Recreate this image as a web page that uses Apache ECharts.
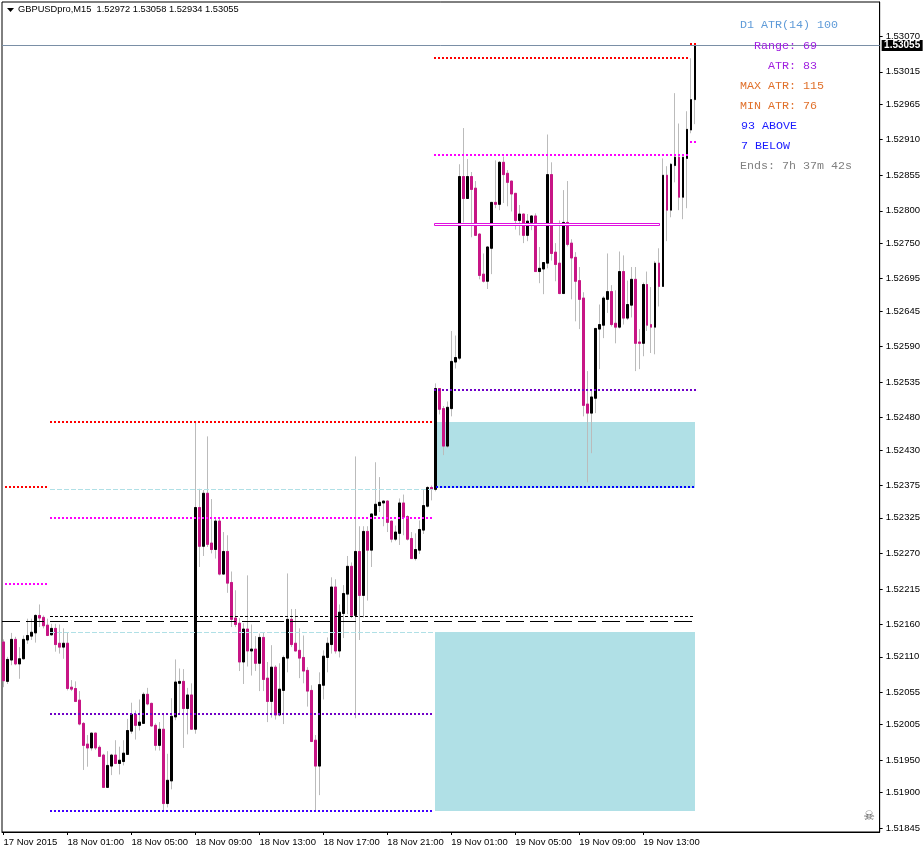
<!DOCTYPE html>
<html>
<head>
<meta charset="utf-8">
<title>GBPUSDpro,M15</title>
<script src="https://cdn.jsdelivr.net/npm/echarts@6/dist/echarts.min.js"></script>
<style>
    html, body { margin: 0; padding: 0; background: #fff; }
    #main { width: 923px; height: 850px; }
</style>
</head>
<body>
<div id="main"></div>
<script>
// M15 bars, index 0 = first visible bar
var opens = [
1.52133,1.52072,1.52105,1.52137,1.52099,1.52107,1.52136,1.52142,1.52147,1.52174,
1.52171,1.52159,1.52144,1.52154,1.52131,1.52125,1.52131,1.52063,1.52061,1.52043,
1.52007,1.51975,1.51969,1.51992,1.51970,1.51958,1.51908,1.51941,1.51958,1.51945,
1.51948,1.51959,1.51995,1.52021,1.52004,1.52007,1.52052,1.52038,1.52004,1.51973,
1.51998,1.51883,1.51918,1.52017,1.52069,1.52072,1.52030,1.52051,1.51998,1.52341,
1.52281,1.52363,1.52286,1.52276,1.52320,1.52238,1.52273,1.52225,1.52170,1.52162,
1.52102,1.52153,1.52119,1.52122,1.52100,1.52140,1.52077,1.52041,1.52094,1.52020,
1.52058,1.52108,1.52168,1.52131,1.52120,1.52109,1.52089,1.52058,1.51981,1.51941,
1.52066,1.52109,1.52129,1.52218,1.52119,1.52177,1.52207,1.52250,1.52174,1.52273,
1.52205,1.52304,1.52275,1.52329,1.52344,1.52348,1.52351,1.52320,1.52292,1.52301,
1.52348,1.52327,1.52293,1.52262,1.52275,1.52306,1.52343,1.52372,1.52369,1.52525,
1.52494,1.52436,1.52494,1.52566,1.52572,1.52853,1.52819,1.52853,1.52835,1.52764,
1.52702,1.52691,1.52742,1.52813,1.52810,1.52875,1.52858,1.52846,1.52827,1.52785,
1.52795,1.52762,1.52782,1.52792,1.52706,1.52710,1.52719,1.52856,1.52736,1.52719,
1.52672,1.52782,1.52750,1.52728,1.52692,1.52665,1.52501,1.52487,1.52510,1.52617,
1.52623,1.52663,1.52675,1.52626,1.52620,1.52706,1.52634,1.52654,1.52694,1.52597,
1.52595,1.52686,1.52624,1.52620,1.52719,1.52683,1.52855,1.52801,1.52870,1.52883,
1.52821,1.52881,1.52925,1.52972];
var closes = [
1.52073,1.52106,1.52137,1.52099,1.52107,1.52137,1.52143,1.52148,1.52174,1.52170,
1.52158,1.52143,1.52154,1.52129,1.52125,1.52131,1.52061,1.52060,1.52041,1.52006,
1.51973,1.51969,1.51992,1.51969,1.51956,1.51908,1.51942,1.51958,1.51945,1.51950,
1.51961,1.51996,1.52021,1.52004,1.52009,1.52052,1.52037,1.52003,1.51973,1.51998,
1.51883,1.51919,1.52018,1.52071,1.52072,1.52030,1.52051,1.51998,1.52341,1.52281,
1.52363,1.52284,1.52276,1.52320,1.52238,1.52273,1.52224,1.52168,1.52160,1.52102,
1.52153,1.52119,1.52122,1.52100,1.52140,1.52075,1.52041,1.52094,1.52020,1.52060,
1.52109,1.52168,1.52129,1.52119,1.52108,1.52088,1.52057,1.51979,1.51941,1.52067,
1.52111,1.52131,1.52218,1.52119,1.52179,1.52208,1.52250,1.52174,1.52273,1.52205,
1.52304,1.52275,1.52331,1.52346,1.52349,1.52351,1.52318,1.52292,1.52303,1.52348,
1.52326,1.52292,1.52262,1.52276,1.52307,1.52344,1.52372,1.52369,1.52525,1.52493,
1.52436,1.52496,1.52567,1.52573,1.52853,1.52819,1.52853,1.52833,1.52762,1.52700,
1.52691,1.52744,1.52813,1.52810,1.52875,1.52856,1.52844,1.52826,1.52785,1.52795,
1.52762,1.52784,1.52792,1.52706,1.52711,1.52720,1.52856,1.52734,1.52717,1.52672,
1.52782,1.52748,1.52727,1.52691,1.52663,1.52499,1.52487,1.52512,1.52618,1.52624,
1.52665,1.52675,1.52624,1.52620,1.52706,1.52634,1.52655,1.52694,1.52595,1.52595,
1.52686,1.52623,1.52620,1.52719,1.52683,1.52855,1.52801,1.52872,1.52883,1.52821,
1.52883,1.52926,1.52972,1.53055];
var highs = [
1.52137,1.52110,1.52147,1.52141,1.52125,1.52143,1.52169,1.52169,1.52176,1.52191,
1.52174,1.52169,1.52161,1.52161,1.52160,1.52154,1.52147,1.52074,1.52072,1.52057,
1.52009,1.51989,1.51992,1.51992,1.51973,1.51960,1.51964,1.51960,1.51981,1.51971,
1.51981,1.52014,1.52039,1.52027,1.52044,1.52055,1.52062,1.52039,1.52007,1.52009,
1.52020,1.51960,1.52046,1.52106,1.52092,1.52091,1.52062,1.52069,1.52473,1.52370,
1.52368,1.52451,1.52354,1.52324,1.52324,1.52303,1.52298,1.52242,1.52213,1.52170,
1.52162,1.52236,1.52160,1.52142,1.52146,1.52148,1.52102,1.52128,1.52097,1.52100,
1.52112,1.52239,1.52184,1.52184,1.52154,1.52143,1.52094,1.52066,1.51989,1.52086,
1.52120,1.52140,1.52233,1.52230,1.52191,1.52221,1.52266,1.52256,1.52420,1.52312,
1.52312,1.52312,1.52331,1.52411,1.52388,1.52351,1.52352,1.52320,1.52313,1.52355,
1.52361,1.52329,1.52303,1.52301,1.52321,1.52368,1.52374,1.52375,1.52533,1.52525,
1.52498,1.52505,1.52614,1.52607,1.52872,1.52928,1.52880,1.52860,1.52846,1.52765,
1.52734,1.52745,1.52813,1.52878,1.52877,1.52884,1.52863,1.52846,1.52827,1.52809,
1.52795,1.52795,1.52793,1.52796,1.52744,1.52720,1.52918,1.52875,1.52750,1.52785,
1.52832,1.52846,1.52756,1.52736,1.52713,1.52674,1.52552,1.52522,1.52618,1.52655,
1.52668,1.52734,1.52685,1.52677,1.52737,1.52731,1.52692,1.52713,1.52713,1.52617,
1.52689,1.52706,1.52682,1.52722,1.52742,1.52881,1.52869,1.52874,1.52982,1.52935,
1.52883,1.52954,1.53036,1.53058];
var lows = [
1.52063,1.52068,1.52097,1.52097,1.52076,1.52106,1.52130,1.52136,1.52132,1.52156,
1.52154,1.52142,1.52143,1.52118,1.52115,1.52107,1.52058,1.52057,1.52040,1.52004,
1.51935,1.51940,1.51965,1.51966,1.51955,1.51907,1.51907,1.51927,1.51944,1.51928,
1.51942,1.51959,1.51991,1.51982,1.51996,1.52007,1.52035,1.52002,1.51965,1.51965,
1.51873,1.51877,1.51905,1.52012,1.52021,1.51969,1.51990,1.51998,1.51991,1.52249,
1.52266,1.52280,1.52270,1.52262,1.52236,1.52238,1.52209,1.52156,1.52156,1.52088,
1.52068,1.52095,1.52081,1.52088,1.52057,1.52057,1.52009,1.52016,1.52013,1.52018,
1.52006,1.52086,1.52125,1.52119,1.52077,1.52069,1.52033,1.51978,1.51873,1.51896,
1.52044,1.52086,1.52115,1.52115,1.52109,1.52139,1.52176,1.52170,1.52015,1.52136,
1.52171,1.52197,1.52249,1.52329,1.52334,1.52312,1.52303,1.52287,1.52289,1.52283,
1.52298,1.52290,1.52262,1.52259,1.52269,1.52300,1.52341,1.52352,1.52366,1.52485,
1.52422,1.52433,1.52482,1.52556,1.52569,1.52782,1.52819,1.52759,1.52761,1.52694,
1.52689,1.52679,1.52702,1.52804,1.52801,1.52812,1.52807,1.52799,1.52771,1.52762,
1.52750,1.52753,1.52770,1.52706,1.52688,1.52671,1.52711,1.52723,1.52691,1.52671,
1.52672,1.52745,1.52663,1.52629,1.52617,1.52482,1.52380,1.52425,1.52487,1.52555,
1.52603,1.52642,1.52621,1.52595,1.52618,1.52624,1.52631,1.52635,1.52552,1.52555,
1.52575,1.52614,1.52580,1.52578,1.52652,1.52683,1.52753,1.52790,1.52844,1.52801,
1.52787,1.52804,1.52920,1.52934];

// axis ticks
var priceTicks = [1.53070,1.53015,1.52965,1.52910,1.52855,1.52800,1.52750,1.52695,1.52645,1.52590,1.52535,1.52480,
    1.52430,1.52375,1.52325,1.52270,1.52215,1.52160,1.52110,1.52055,1.52005,1.51950,1.51900,1.51845];
var timeTicks = [0,16,32,48,64,80,96,112,128,144,160];
var timeLabels = ['17 Nov 2015','18 Nov 01:00','18 Nov 05:00','18 Nov 09:00','18 Nov 13:00','18 Nov 17:00',
    '18 Nov 21:00','19 Nov 01:00','19 Nov 05:00','19 Nov 09:00','19 Nov 13:00'];

// indicator levels: price, first bar, last bar
var levelPrices = [1.53036,1.52886,1.53058,1.52907,1.52522,1.52474,1.52369,1.52372,1.52324,1.52372,1.52222,1.52172,1.52165,1.52148,1.52021,1.51871];
var levelFrom   = [107.6,107.6,171.6,171.6,107.6,11.6,11.6,108.1,11.6,0.4,0.4,11.6,-0.375,11.6,11.6,11.6];
var levelTo     = [171.1,171.1,173.1,173.1,173.1,107.6,107.6,173.1,107.6,11.1,11.1,172.6,172.6,107.6,107.1,107.1];

// zones: first bar, last bar, upper price, lower price
var zoneFrom = [108,107.9];
var zoneTo = [172.9,172.9];
var zoneTop = [1.52474,1.52148];
var zoneBottom = [1.52371,1.51871];
var boxFrom = 107.9, boxTo = 164.1, boxTop = 1.52780, boxBottom = 1.52777;

var lastPrice = 1.53055;
var titleText = 'GBPUSDpro,M15  1.52972 1.53058 1.52934 1.53055';
var panelLines = ['D1 ATR(14) 100','Range: 69','ATR: 83','MAX ATR: 115','MIN ATR: 76','93 ABOVE','7 BELOW','Ends: 7h 37m 42s'];

var DOT = [2,2], SHORT = [3,2], LONG = [18,6], DASH = [5,2];
var levelStyle = [
    ['#ff0000',DOT,2],['#ff00ff',DOT,2],['#ff0000',DOT,2],['#ff00ff',DOT,2],['#7000c8',DOT,2],['#ff0000',DOT,2],
    ['#b0e0e6',DASH,1],['#0000ff',DOT,2],['#ff00ff',DOT,2],['#ff0000',DOT,2],['#ff00ff',DOT,2],
    ['#000000',SHORT,1],['#000000',LONG,1],['#b0e0e6',DASH,1],['#7000c8',DOT,2],['#4000ff',DOT,2]
];
var panelStyle = [
    [740,25,'#5f9bd8'],[754,46,'#a020e0'],[768,66,'#a020e0'],[740,86,'#e0702a'],
    [740,106,'#e0702a'],[741,126,'#1a1aff'],[741,146,'#1a1aff'],[740,166,'#808080']
];

var wicks = opens.map(function (o, i) { return [i, o, closes[i], lows[i], highs[i]]; });
var bodies = opens.map(function (o, i) { return [i, o, closes[i], Math.min(o, closes[i]), Math.max(o, closes[i])]; });

// keeps horizontal levels on whole pixels so they stay as crisp as in the terminal
function crispY(y, width) {
    return width % 2 ? Math.floor(y) + 0.5 : Math.round(y);
}

function renderLevel(params, api) {
    var st = levelStyle[params.seriesIndex - levelBase];
    var a = api.coord([api.value(0), api.value(2)]);
    var b = api.coord([api.value(1), api.value(2)]);
    var y = crispY(a[1], st[2]);
    return {
        type: 'line', silent: true,
        shape: { x1: Math.round(a[0]), y1: y, x2: Math.round(b[0]), y2: y },
        style: { stroke: st[0], lineWidth: st[2], lineDash: st[1], fill: null }
    };
}

function renderZone(params, api) {
    var a = api.coord([api.value(0), api.value(2)]);
    var b = api.coord([api.value(1), api.value(3)]);
    var x = Math.round(a[0]), y = Math.round(a[1]);
    return {
        type: 'rect', silent: true,
        shape: { x: x, y: y, width: Math.round(b[0]) - x, height: Math.round(b[1]) - y },
        style: { fill: '#b0e0e6' }
    };
}

function renderBox(params, api) {
    var a = api.coord([api.value(0), api.value(2)]);
    var b = api.coord([api.value(1), api.value(3)]);
    var x = Math.floor(a[0]) + 0.5, y = crispY(a[1], 1);
    return {
        type: 'rect', silent: true,
        shape: { x: x, y: y, width: Math.floor(b[0]) + 0.5 - x, height: crispY(b[1], 1) - y },
        style: { fill: '#ffffff', stroke: '#e010e0', lineWidth: 1 }
    };
}

function renderLastPrice(params, api) {
    var a = api.coord([api.value(0), api.value(2)]);
    var b = api.coord([api.value(1), api.value(2)]);
    var y = crispY(a[1], 1);
    return {
        type: 'group', silent: true,
        children: [
            { type: 'line', shape: { x1: a[0], y1: y, x2: b[0], y2: y }, style: { stroke: '#7a8fa6', lineWidth: 1, fill: null } },
            { type: 'rect', shape: { x: b[0] + 2, y: y - 5.5, width: 41, height: 11 }, style: { fill: '#000' } },
            {
                type: 'text', x: b[0] + 22.5, y: y,
                style: {
                    text: api.value(2).toFixed(5), fill: '#fff', font: 'bold 10px "Liberation Sans"',
                    textAlign: 'center', textVerticalAlign: 'middle'
                }
            }
        ]
    };
}

var series = [
    {
        type: 'custom', z: 1, silent: true,
        encode: { x: [0, 1], y: [2, 3] },
        data: zoneFrom.map(function (f, i) { return [f, zoneTo[i], zoneTop[i], zoneBottom[i]]; }),
        renderItem: renderZone
    },
    {
        type: 'candlestick', data: wicks, z: 2, barWidth: 2,
        itemStyle: { color: '#bbbbbb', color0: '#bbbbbb', borderColor: '#bbbbbb', borderColor0: '#bbbbbb', borderColorDoji: '#bbbbbb', borderWidth: 1 }
    },
    {
        type: 'candlestick', data: bodies, z: 3, barWidth: 2,
        itemStyle: { color: '#000000', color0: '#c71585', borderColor: '#000000', borderColor0: '#c71585', borderColorDoji: '#000000', borderWidth: 1 }
    },
    {
        type: 'custom', z: 5, silent: true,
        encode: { x: [0, 1], y: [2, 3] },
        data: [[boxFrom, boxTo, boxTop, boxBottom]],
        renderItem: renderBox
    },
    {
        type: 'custom', z: 4, silent: true, clip: false,
        encode: { x: [0, 1], y: 2 },
        data: [[-0.375, 219.125, lastPrice]],
        renderItem: renderLastPrice
    }
];
var levelBase = series.length;
levelPrices.forEach(function (p, i) {
    series.push({
        type: 'custom', z: 4, silent: true,
        encode: { x: [0, 1], y: 2 },
        data: [[levelFrom[i], levelTo[i], p]],
        renderItem: renderLevel
    });
});

var graphics = panelLines.map(function (t, i) {
    return {
        type: 'text', x: panelStyle[i][0], y: panelStyle[i][1], z: 20, silent: true,
        style: { text: t, fill: panelStyle[i][2], font: '11.67px "Liberation Mono"', textVerticalAlign: 'middle' }
    };
});
graphics.push({ type: 'polygon', silent: true, shape: { points: [[7, 8], [14, 8], [10.5, 12]] }, style: { fill: '#000' } });
graphics.push({
    type: 'text', x: 869, y: 817, silent: true,
    style: { text: '\u2620', fill: '#555555', font: '13px "DejaVu Sans"', textAlign: 'center', textVerticalAlign: 'middle' }
});

var myChart = echarts.init(document.getElementById('main'));
myChart.setOption({
    animation: false,
    backgroundColor: '#ffffff',
    title: {
        text: titleText, left: 18, top: 5, padding: 0,
        textStyle: { fontFamily: 'Liberation Sans', fontSize: 9.3, fontWeight: 'normal', color: '#000' }
    },
    grid: { show: true, borderColor: '#000', borderWidth: 1, left: 2, right: 43, top: 2, bottom: 18 },
    xAxis: {
        type: 'value', min: -0.375, max: 219.125,
        splitLine: { show: false },
        axisLine: { onZero: false, lineStyle: { color: '#000', width: 1 } },
        axisTick: { length: 3, lineStyle: { color: '#000' }, customValues: timeTicks },
        axisLabel: {
            customValues: timeTicks, margin: 5, align: 'left', color: '#000',
            fontFamily: 'Liberation Sans', fontSize: 9.5,
            formatter: function (v) { return timeLabels[timeTicks.indexOf(v)]; }
        }
    },
    yAxis: {
        type: 'value', position: 'right', min: 1.51839, max: 1.53123,
        splitLine: { show: false },
        axisLine: { show: true, onZero: false, lineStyle: { color: '#000', width: 1 } },
        axisTick: { show: true, length: 3, lineStyle: { color: '#000' }, customValues: priceTicks },
        axisLabel: {
            customValues: priceTicks, margin: 6, align: 'left', color: '#000',
            fontFamily: 'Liberation Sans', fontSize: 9.5,
            formatter: function (v) { return v.toFixed(5); }
        }
    },
    series: series,
    graphic: graphics
});
</script>
</body>
</html>
